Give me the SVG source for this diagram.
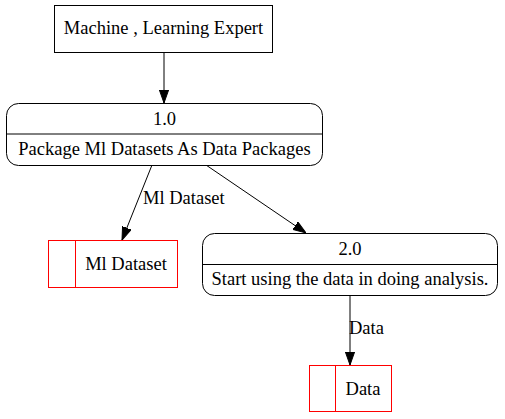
<svg xmlns="http://www.w3.org/2000/svg" width="505" height="419" viewBox="0 0 505 419">
<style>
.c{text-anchor:middle}
text{font-family:"Liberation Serif","Times New Roman",serif;font-size:18.5px;fill:#000}
</style>
<defs>
<marker id="a" markerWidth="13" markerHeight="10" refX="13" refY="5" orient="auto" markerUnits="userSpaceOnUse">
<polygon points="0,0.4 13,5 0,9.6" fill="#000" stroke="#000"/>
</marker>
</defs>
<rect width="505" height="419" fill="#fff"/>
<g id="connectors" stroke="#000" stroke-width="1" fill="none">
<line x1="164" y1="53" x2="164" y2="103" marker-end="url(#a)"/>
<line x1="152" y1="165" x2="122" y2="240" marker-end="url(#a)"/>
<line x1="206" y1="165" x2="306" y2="233" marker-end="url(#a)"/>
<line x1="350" y1="295" x2="350" y2="365" marker-end="url(#a)"/>
<text x="143" y="204" stroke="none">Ml Dataset</text>
<text x="349" y="334" stroke="none">Data</text>
</g>
<g id="expert">
<rect x="54.5" y="5.5" width="218" height="47" fill="#fff" stroke="#000"/>
<text class="c" x="163.5" y="34">Machine , Learning Expert</text>
</g>
<g id="p1">
<rect x="6.5" y="103.5" width="316" height="62" rx="12" fill="#fff" stroke="#000"/>
<line x1="6.5" y1="134" x2="322.5" y2="134" stroke="#000"/>
<text class="c" x="164.5" y="125">1.0</text>
<text class="c" x="164.5" y="155">Package Ml Datasets As Data Packages</text>
</g>
<g id="ds1">
<rect x="48.5" y="240.5" width="129" height="47" fill="#fff" stroke="#ff0000"/>
<line x1="75.5" y1="240.5" x2="75.5" y2="287.5" stroke="#ff0000"/>
<text class="c" x="126" y="270">Ml Dataset</text>
</g>
<g id="p2">
<rect x="202.5" y="233.5" width="295" height="62" rx="12" fill="#fff" stroke="#000"/>
<line x1="202.5" y1="264.5" x2="497.5" y2="264.5" stroke="#000"/>
<text class="c" x="350" y="255">2.0</text>
<text class="c" x="350" y="285">Start using the data in doing analysis.</text>
</g>
<g id="ds2">
<rect x="309.5" y="365.5" width="82" height="46" fill="#fff" stroke="#ff0000"/>
<line x1="335.5" y1="365.5" x2="335.5" y2="411.5" stroke="#ff0000"/>
<text class="c" x="363" y="395">Data</text>
</g>
</svg>
